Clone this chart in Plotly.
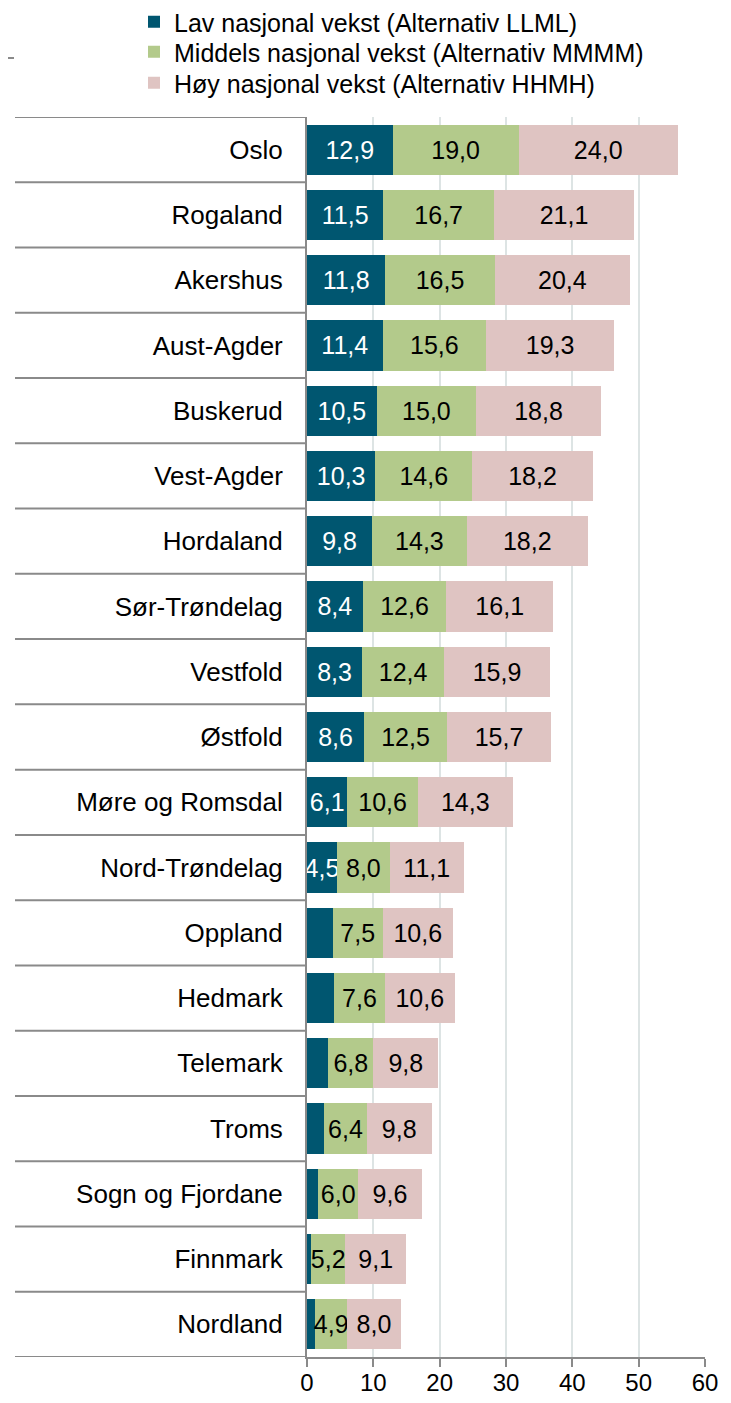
import plotly.graph_objects as go

categories = ["Oslo", "Rogaland", "Akershus", "Aust-Agder", "Buskerud", "Vest-Agder",
              "Hordaland", "Sør-Trøndelag", "Vestfold", "Østfold", "Møre og Romsdal",
              "Nord-Trøndelag", "Oppland", "Hedmark", "Telemark", "Troms",
              "Sogn og Fjordane", "Finnmark", "Nordland"]
lav = [12.9, 11.5, 11.8, 11.4, 10.5, 10.3, 9.8, 8.4, 8.3, 8.6, 6.1, 4.5, 3.9, 4.1, 3.2, 2.6, 1.7, 0.6, 1.2]
middels = [19.0, 16.7, 16.5, 15.6, 15.0, 14.6, 14.3, 12.6, 12.4, 12.5, 10.6, 8.0, 7.5, 7.6, 6.8, 6.4, 6.0, 5.2, 4.9]
hoy = [24.0, 21.1, 20.4, 19.3, 18.8, 18.2, 18.2, 16.1, 15.9, 15.7, 14.3, 11.1, 10.6, 10.6, 9.8, 9.8, 9.6, 9.1, 8.0]
series_names = ["Lav nasjonal vekst (Alternativ LLML)",
                "Middels nasjonal vekst (Alternativ MMMM)",
                "Høy nasjonal vekst (Alternativ HHMH)"]
x_ticks = [0, 10, 20, 30, 40, 50, 60]

colors = ["#005670", "#b3ca8b", "#dfc4c2"]
text_colors = ["white", "black", "black"]
legend_ids = ["legend", "legend2", "legend3"]
FONT = "Liberation Sans, Arial, sans-serif"


def fmt(v, min_show=4.5):
    return f"{v:.1f}".replace(".", ",") if v >= min_show else ""


fig = go.Figure()
for name, vals, col, tcol, lg in zip(series_names, [lav, middels, hoy], colors, text_colors, legend_ids):
    fig.add_trace(go.Bar(
        y=categories, x=vals, name=name, orientation="h", legend=lg,
        marker=dict(color=col, line=dict(width=0)),
        text=[fmt(v) for v in vals], textposition="inside", insidetextanchor="middle",
        textangle=0, constraintext="none",
        textfont=dict(color=tcol, size=25, family=FONT),
        hoverinfo="x+y",
    ))

# figure placed at page offset (8, 8) by the default body margin
W, H = 723, 1387
L, T = 299, 109
pw, ph = 398, 1240
R = W - L - pw
B = H - T - ph
n = len(categories)
xl = (7 - L) / pw

shapes = []
for k in range(n + 1):
    shapes.append(dict(type="line", xref="paper", yref="y", x0=xl, x1=0,
                       y0=k - 0.5, y1=k - 0.5, line=dict(color="#8a8a8a", width=2)))
# short stray line top-left
shapes.append(dict(type="line", xref="paper", yref="paper", x0=(0 - L) / pw, x1=(6 - L) / pw,
                   y0=(H - B - 50) / ph, y1=(H - B - 50) / ph, line=dict(color="#8a8a8a", width=2)))

legend_rows_px = [14, 44, 75]
legend_common = dict(xref="container", yref="container", xanchor="left", yanchor="middle",
                     orientation="v", font=dict(size=25, family=FONT, color="black"),
                     bgcolor="rgba(0,0,0,0)", itemclick=False, itemdoubleclick=False)
legends = {lg: dict(x=126 / W, y=1 - yp / H, **legend_common)
           for lg, yp in zip(legend_ids, legend_rows_px)}

fig.update_layout(
    barmode="stack", bargap=0.23,
    width=W, height=H, autosize=False,
    margin=dict(l=L, r=R, t=T, b=B, pad=0, autoexpand=False),
    paper_bgcolor="white", plot_bgcolor="white",
    font=dict(family=FONT, size=25, color="black"),
    shapes=shapes,
    showlegend=True,
    **legends,
    xaxis=dict(range=[0, 60], tickvals=x_ticks, ticktext=[str(t) for t in x_ticks],
               showgrid=True, gridcolor="#dde4e4", gridwidth=2, automargin=False,
               showline=True, linecolor="#8a8a8a", linewidth=2,
               ticks="outside", ticklen=8, tickwidth=2, tickcolor="#8a8a8a",
               ticklabelstandoff=-5,
               zeroline=False, tickfont=dict(size=24, family=FONT)),
    yaxis=dict(categoryorder="array", categoryarray=categories, automargin=False,
               range=[n - 0.5, -0.5], showgrid=False, zeroline=False,
               showline=True, linecolor="#8a8a8a", linewidth=2,
               ticks="", ticklabelstandoff=17, tickfont=dict(size=26, family=FONT)),
)

fig.write_html("out.html")
